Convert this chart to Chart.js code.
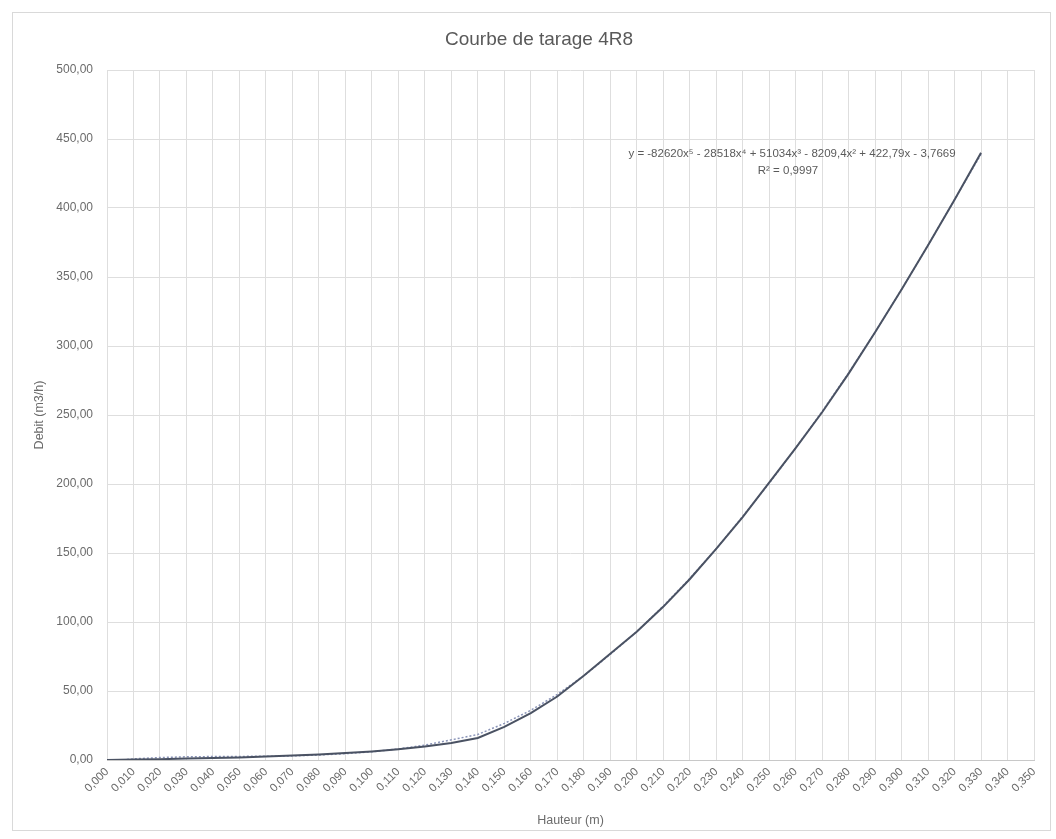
<!DOCTYPE html>
<html>
<head>
<meta charset="utf-8">
<title>Courbe de tarage 4R8</title>
<script src="https://cdn.jsdelivr.net/npm/chart.js@4"></script>
<style>
  html, body { margin: 0; padding: 0; background: #ffffff; }
  #wrap { width: 1056px; height: 839px; }
</style>
</head>
<body>
<div id="wrap"><canvas id="tarageChart" width="1056" height="839"></canvas></div>
<script>
// Hauteur (m) : étiquettes de l'axe X
const hauteurs = [
  "0,000", "0,010", "0,020", "0,030", "0,040", "0,050", "0,060", "0,070", "0,080",
  "0,090", "0,100", "0,110", "0,120", "0,130", "0,140", "0,150", "0,160", "0,170",
  "0,180", "0,190", "0,200", "0,210", "0,220", "0,230", "0,240", "0,250", "0,260",
  "0,270", "0,280", "0,290", "0,300", "0,310", "0,320", "0,330", "0,340", "0,350",
];

// Débit mesuré (m3/h), de 0,000 à 0,330
const debit = [
  0, 0.3, 0.6, 1.0, 1.4, 1.9, 2.5, 3.2, 4.0, 5.0, 6.2, 7.8, 9.8, 12.3, 16,
  24, 34, 46, 61, 77, 93, 111, 131, 153, 176, 201, 226, 252, 280, 310, 341,
  373, 406, 440,
];

// Courbe de tendance (pointillés)
const tendance = [
  -1.0, 0.8, 1.8, 2.3, 2.5, 2.6, 2.7, 3.0, 3.6, 4.6, 6.0, 8.0, 10.8, 14.6, 18.5,
  26.5, 36, 47.5, 61, 76.5, 93, 111.5, 131.5, 153, 176.5, 200.5, 226, 252.5,
  280.5, 310, 341, 373, 406, 439,
];

const yTicks = { min: 0, max: 500, step: 50 };

const equation = "y = -82620x\u2075 - 28518x\u2074 + 51034x\u00b3 - 8209,4x\u00b2 + 422,79x - 3,7669";
const r2 = "R\u00b2 = 0,9997";

const GREY_TEXT = "#6b6b6b";
const GRID = "#dedede";
const FONT = "'Liberation Sans', 'Open Sans', sans-serif";

// cadre, titre et équation
const decorPlugin = {
  id: "decor",
  beforeDraw(chart) {
    const ctx = chart.ctx;
    ctx.save();
    ctx.fillStyle = "#ffffff";
    ctx.fillRect(0, 0, chart.width, chart.height);
    ctx.strokeStyle = "#d9d9d9";
    ctx.lineWidth = 1;
    ctx.strokeRect(12.5, 12.5, 1038, 818);
    ctx.restore();
  },
  afterDraw(chart) {
    const ctx = chart.ctx;
    ctx.save();
    ctx.fillStyle = "#595959";
    ctx.textAlign = "center";
    ctx.textBaseline = "middle";
    ctx.font = "19px " + FONT;
    ctx.fillText("Courbe de tarage 4R8", 539, 40);

    ctx.fillStyle = "#5a5a5a";
    ctx.font = "11.5px " + FONT;
    ctx.fillText(equation, 792, 154);
    ctx.fillText(r2, 788, 171);
    ctx.restore();
  },
};

function initializeChart() {
  const ctx = document.getElementById("tarageChart").getContext("2d");
  new Chart(ctx, {
    type: "line",
    data: {
      labels: hauteurs,
      datasets: [
        {
          label: "Débit",
          data: debit,
          borderColor: "#4a5263",
          borderWidth: 2,
          pointRadius: 0,
          tension: 0,
          order: 1,
        },
        {
          label: "Tendance",
          data: tendance,
          borderColor: "#8a94b8",
          borderWidth: 1.5,
          borderDash: [2, 2],
          pointRadius: 0,
          tension: 0,
          order: 2,
        },
      ],
    },
    options: {
      responsive: false,
      animation: false,
      layout: { padding: { left: 12, right: 22, top: 70, bottom: 0 } },
      scales: {
        x: {
          type: "category",
          offset: false,
          grid: { color: GRID, drawTicks: false, tickLength: 0 },
          border: { color: "#c8c8c8" },
          ticks: {
            autoSkip: false,
            minRotation: 45,
            maxRotation: 45,
            padding: 5,
            color: GREY_TEXT,
            font: { family: FONT, size: 11.5 },
          },
          title: {
            display: true,
            text: "Hauteur (m)",
            color: GREY_TEXT,
            font: { family: FONT, size: 12.5 },
            padding: { top: 0, bottom: 11 },
          },
          afterFit(scale) {
            scale.height = 79;
          },
        },
        y: {
          min: yTicks.min,
          max: yTicks.max,
          grid: { color: GRID, drawTicks: false, tickLength: 0 },
          border: { display: false },
          ticks: {
            stepSize: yTicks.step,
            padding: 14,
            color: GREY_TEXT,
            font: { family: FONT, size: 12 },
            callback: function (value) {
              return value.toFixed(2).replace(".", ",");
            },
          },
          title: {
            display: true,
            text: "Debit (m3/h)",
            color: GREY_TEXT,
            font: { family: FONT, size: 12.5 },
            padding: { top: 20, bottom: 0 },
          },
          afterFit(scale) {
            scale.width = 95;
          },
        },
      },
      plugins: {
        legend: { display: false },
        title: { display: false },
        tooltip: { enabled: false },
      },
    },
    plugins: [decorPlugin],
  });
}

if (document.readyState === "loading") {
  document.addEventListener("DOMContentLoaded", initializeChart);
} else {
  initializeChart();
}
</script>
</body>
</html>
